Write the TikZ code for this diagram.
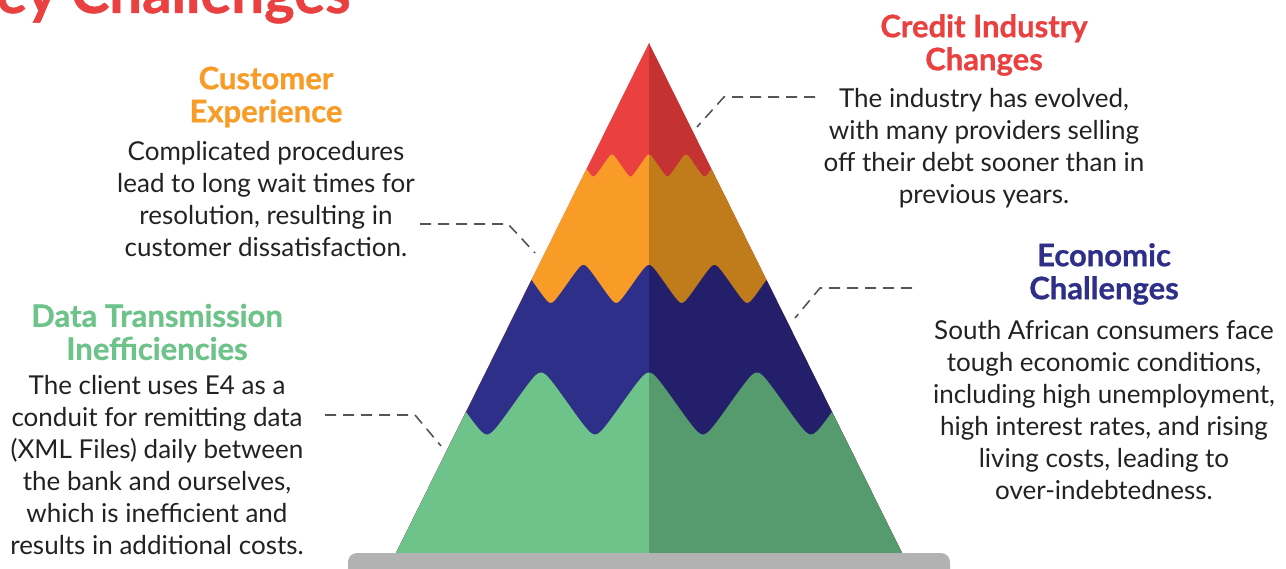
\documentclass[tikz,border=0pt]{standalone}
\usepackage{fontspec}
\setmainfont{Lato}
\newfontfamily\headfont{Lato}[BoldFeatures={FakeBold=0.8}]
\definecolor{redL}{HTML}{EA4040}
\definecolor{redR}{HTML}{C43232}
\definecolor{orgL}{HTML}{F89C27}
\definecolor{orgR}{HTML}{C07C1B}
\definecolor{navL}{HTML}{2E2F88}
\definecolor{navR}{HTML}{231F6A}
\definecolor{grnL}{HTML}{6EC38A}
\definecolor{grnR}{HTML}{559B6E}
\definecolor{basegray}{HTML}{B2B2B2}
\definecolor{bodytext}{HTML}{222222}
\definecolor{dashgray}{HTML}{555555}
\begin{document}
\begin{tikzpicture}[x=1pt,y=-1pt,
  heading/.style={align=center, font=\fontsize{31}{33}\selectfont\headfont\bfseries, inner sep=0pt},
  bodytxt/.style={align=center, font=\fontsize{26}{32}\selectfont, text=bodytext, inner sep=0pt},
  leader/.style={draw=dashgray, line width=1.6pt, dash pattern=on 11pt off 7pt},
  declare function={rw(\t)=asin(0.93*cos(\t))/68.43;}]
\useasboundingbox (0,0) rectangle (1286,569);

% ---------- pyramid ----------
\begin{scope}
  \clip (649,43) -- (902,553) -- (396,553) -- cycle;
  \foreach \xa/\xb/\cr/\co/\cn/\cg in {300/649/redL/orgL/navL/grnL, 649/1000/redR/orgR/navR/grnR}{
    \begin{scope}
      \clip (\xa,0) rectangle (\xb,600);
      \fill[\cr] (300,0) rectangle (1000,600);
      \fill[\co] plot[domain=380:920, samples=500] (\x,{165.5-11*rw((\x-649)*9.72973)}) -- (920,600) -- (380,600) -- cycle;
      \fill[\cn] plot[domain=380:920, samples=500] (\x,{284-19*rw((\x-649)*5.49618)}) -- (920,600) -- (380,600) -- cycle;
      \fill[\cg] plot[domain=380:920, samples=500] (\x,{403.5-31*rw((\x-649)*3.33333)}) -- (920,600) -- (380,600) -- cycle;
    \end{scope}
  }
\end{scope}
% base bar
\fill[basegray, rounded corners=9pt] (348,553) rectangle (950,600);

% ---------- title ----------
\node[anchor=base west, inner sep=0pt, text=redL, font=\fontsize{58}{62}\selectfont\headfont\bfseries] (title) at (-4,13) {ey Challenges};

% ---------- headings ----------
\node[heading, text=orgL] (hcust) at (266,97) {Customer\\Experience};
\node[heading, text=redL] (hcred) at (984,45) {Credit Industry\\Changes};
\node[heading, text=navL] (hecon) at (1104,274) {Economic\\Challenges};
\node[heading, text=grnL] (hdata) at (157,332) {Data Transmission\\Inefficiencies};

% ---------- bodies ----------
\node[bodytxt] (bcust) at (266,199) {Complicated procedures\\lead to long wait times for\\resolution, resulting in\\customer dissatisfaction.};
\node[bodytxt] (bcred) at (984,148) {The industry has evolved,\\with many providers selling\\off their debt sooner than in\\previous years.};
\node[bodytxt] (becon) at (1104,410) {South African consumers face\\tough economic conditions,\\including high unemployment,\\high interest rates, and rising\\living costs, leading to\\over-indebtedness.};
\node[bodytxt] (bdata) at (157,465) {The client uses E4 as a\\conduit for remitting data\\(XML Files) daily between\\the bank and ourselves,\\which is inefficient and\\results in additional costs.};

% ---------- leaders ----------
\coordinate (c1a) at (815,97);  \coordinate (c1b) at (724,97);  \coordinate (c1c) at (697,127);
\coordinate (c2a) at (420,224); \coordinate (c2b) at (508,224); \coordinate (c2c) at (535,253);
\coordinate (c3a) at (912,288); \coordinate (c3b) at (820,288); \coordinate (c3c) at (795,318);
\coordinate (c4a) at (325,415); \coordinate (c4b) at (415,415); \coordinate (c4c) at (441,446);
\draw[leader] (c1a) -- (c1b) -- (c1c);
\draw[leader] (c2a) -- (c2b) -- (c2c);
\draw[leader] (c3a) -- (c3b) -- (c3c);
\draw[leader] (c4a) -- (c4b) -- (c4c);
\end{tikzpicture}
\end{document}
